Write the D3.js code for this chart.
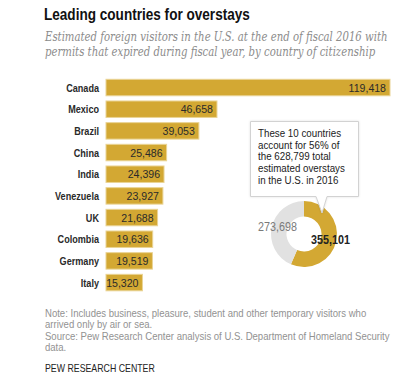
<!DOCTYPE html>
<html><head><meta charset="utf-8">
<script src="https://cdn.jsdelivr.net/npm/d3@7"></script>
<style>
body{margin:0;background:#fff;}
svg{display:block;}
.sans{font-family:"Liberation Sans",Arial,sans-serif;}
</style></head>
<body><svg id="c" width="417" height="383"></svg>
<script>
const countries = ["Canada","Mexico","Brazil","China","India","Venezuela","UK","Colombia","Germany","Italy"];
const overstays = [119418,46658,39053,25486,24396,23927,21688,19636,19519,15320];
const donutLabels = ["Top 10 countries","All other countries"];
const donutValues = [355101,273698];
const titleText = "Leading countries for overstays";
const subtitleLines = ["Estimated foreign visitors in the U.S. at the end of fiscal 2016 with","permits that expired during fiscal year, by country of citizenship"];
const calloutLines = ["These 10 countries","account for 56% of","the 628,799 total","estimated overstays","in the U.S. in 2016"];
const noteLines = ["Note: Includes business, pleasure, student and other temporary visitors who","arrived only by air or sea.","Source: Pew Research Center analysis of U.S. Department of Homeland Security","data."];
const creditText = "PEW RESEARCH CENTER";

const gold = "#d3a833", goldStroke = "#ead495", grey = "#e1e1e1";
const svg = d3.select("#c");
const fmt = d3.format(",");

// horizontal condensing to mimic the narrow Franklin Gothic face
function condense(sel, targetW, refIndex){
  const nodes = sel.nodes();
  const ref = nodes[refIndex||0];
  const k = targetW / ref.getComputedTextLength();
  sel.each(function(){
    const t = d3.select(this); const x = +t.attr("x");
    t.attr("transform", `translate(${x*(1-k)},0) scale(${k},1)`);
  });
}

const title = svg.append("text").attr("class","sans").attr("x",44).attr("y",20)
  .attr("font-size",16).attr("font-weight","bold").attr("fill","#111").text(titleText);
condense(title, 206);

const sub = svg.selectAll(".sub").data(subtitleLines).join("text").attr("class","sub")
  .attr("x",45).attr("y",(d,i)=>41+i*15)
  .attr("font-family","'DejaVu Serif','Liberation Serif',serif").attr("font-style","italic")
  .attr("font-size",12.5).attr("fill","#8c8c8c").text(d=>d);
condense(sub, 343);

const x = d3.scaleLinear().domain([0, d3.max(overstays)]).range([106, 390]);
const y = d3.scaleBand().domain(countries).range([76.7, 293.4]).paddingInner(0.24).paddingOuter(0.12);
const data = countries.map((c,i)=>({c, v:overstays[i]}));

const g = svg.append("g");
g.selectAll("rect").data(data).join("rect")
  .attr("x",x(0)).attr("y",d=>y(d.c)).attr("width",d=>x(d.v)-x(0)).attr("height",y.bandwidth())
  .attr("fill",gold).attr("stroke",goldStroke).attr("stroke-width",1);
const vals = g.selectAll(".val").data(data).join("text").attr("class","sans val")
  .attr("x",d=>x(d.v)-4).attr("y",d=>y(d.c)+y.bandwidth()/2+4)
  .attr("text-anchor","end").attr("font-size",11.5).attr("fill","#2a2a2a").text(d=>fmt(d.v));
condense(vals, 37.4, 0);
const cats = g.selectAll(".cat").data(data).join("text").attr("class","sans cat")
  .attr("x",99).attr("y",d=>y(d.c)+y.bandwidth()/2+4)
  .attr("text-anchor","end").attr("font-size",11).attr("font-weight","bold").attr("fill","#2a2a2a").text(d=>d.c);
condense(cats, 44, 5);

// donut
const cx=304, cy=234;
const pie = d3.pie().sort(null).value(d=>d);
const arc = d3.arc().innerRadius(17.5).outerRadius(33);
const dg = svg.append("g").attr("transform",`translate(${cx},${cy})`);
dg.selectAll("path").data(pie(donutValues)).join("path").attr("d",arc)
  .attr("fill",(d,i)=>i===0?gold:grey);
const l1 = svg.append("text").attr("class","sans").attr("x",297).attr("y",231).attr("text-anchor","end")
  .attr("font-size",12).attr("fill","#7a7a7a").text(fmt(donutValues[1]));
condense(l1, 39);
const l2 = svg.append("text").attr("class","sans").attr("x",311).attr("y",244)
  .attr("font-size",12).attr("font-weight","bold").attr("fill","#222").text(fmt(donutValues[0]));
condense(l2, 39);

// callout
svg.append("path").attr("d","M250.5,121.5 H358.5 V196.5 H327 L322,213 L316,196.5 H250.5 Z")
  .attr("fill","#fff").attr("stroke","#d2d2d2").attr("stroke-width",1)
  .style("filter","drop-shadow(0 0 1px rgba(0,0,0,0.12))");
const co = svg.selectAll(".co").data(calloutLines).join("text").attr("class","sans co")
  .attr("x",258).attr("y",(d,i)=>137+i*11.7).attr("font-size",11.5).attr("fill","#222").text(d=>d);
condense(co, 87, 3);

const notes = svg.selectAll(".note").data(noteLines).join("text").attr("class","sans note")
  .attr("x",45).attr("y",(d,i)=>317+i*11.5).attr("font-size",10).attr("fill","#929292").text(d=>d);
condense(notes, 322, 0);
const credit = svg.append("text").attr("class","sans").attr("x",45).attr("y",372).attr("font-size",10.5)
  .attr("fill","#222").text(creditText);
condense(credit, 110);
</script></body></html>
